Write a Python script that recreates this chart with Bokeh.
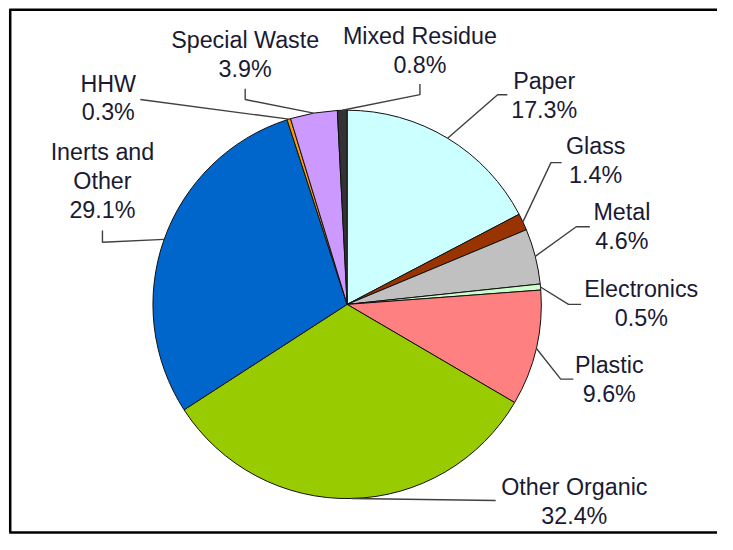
import numpy as np
from bokeh.plotting import figure
from bokeh.models import Range1d, ColumnDataSource
from bokeh.embed import file_html
from bokeh.resources import INLINE
from bokeh.core.properties import value

# ---- data ----
categories = ["Paper", "Glass", "Metal", "Electronics", "Plastic",
              "Other Organic", "Inerts and Other", "HHW", "Special Waste", "Mixed Residue"]
percents = [17.3, 1.4, 4.6, 0.5, 9.6, 32.4, 29.1, 0.3, 3.9, 0.8]
name_lines = [["Paper"], ["Glass"], ["Metal"], ["Electronics"], ["Plastic"],
              ["Other Organic"], ["Inerts and", "Other"], ["HHW"], ["Special Waste"], ["Mixed Residue"]]
colors = ["#CCFFFF", "#993300", "#C0C0C0", "#CCFFCC", "#FF8080",
          "#99CC00", "#0066CC", "#FF9900", "#CC99FF", "#333333"]

# ---- layout (reference pixel coordinates) ----
CX, CY, R = 357, 313, 200
label_pos = [(560, 82.5), (613, 150), (640, 217.5), (660, 297), (627, 375),
             (591, 501), (105, 156), (111, 85.5), (252, 40.5), (432, 37)]
leader_pts = [[(512, 97), (522, 97)], [(567, 167), (578, 167)], [(593, 233), (607, 233)],
              [(585, 313), (598, 313)], [(577, 390), (590, 390)], [(510, 515)],
              [(105, 249), (105, 237)], [(144, 102)], [(252, 102), (252, 91)],
              [(432, 97), (432, 86)]]
LINE_H = 29.8

W, H = 717, 534
S = H / 550.0  # uniform scale from reference pixels to screen pixels
p = figure(width=W, height=H, output_backend="svg", toolbar_location=None,
           x_axis_type=None, y_axis_type=None, min_border=0,
           x_range=Range1d(0, W / S), y_range=Range1d(-H / S, 0))
p.outline_line_color = None
p.background_fill_color = "white"
p.border_fill_color = "white"

vals = np.array(percents, dtype=float)
frac = vals / vals.sum()
cum = np.concatenate([[0.0], np.cumsum(frac)])
start = np.pi / 2 - cum[:-1] * 2 * np.pi
end = np.pi / 2 - cum[1:] * 2 * np.pi
mid = (start + end) / 2

src = ColumnDataSource(dict(start=start, end=end, color=colors, cat=categories))
p.wedge(x=CX, y=-CY, radius=R, start_angle="start", end_angle="end", direction="clock",
        fill_color="color", line_color="#111111", line_width=1, source=src)

# leader lines
xs, ys = [], []
for a, pts in zip(mid, leader_pts):
    ex = CX + R * np.cos(a)
    ey = CY - R * np.sin(a)
    xs.append([ex] + [q[0] for q in pts])
    ys.append([-ey] + [-q[1] for q in pts])
p.multi_line(xs, ys, line_color="#404040", line_width=1.4)

# labels
tx, ty, tt = [], [], []
for lines, pct, (lx, ly) in zip(name_lines, percents, label_pos):
    all_lines = lines + [f"{pct}%"]
    for i, s in enumerate(all_lines):
        tx.append(lx)
        ty.append(-(ly + i * LINE_H))
        tt.append(s)
p.text(x=tx, y=ty, text=tt, text_align="center", text_baseline="middle",
       text_font=value("Liberation Sans"), text_font_size=f"{24 * S:.1f}px",
       text_color="#1a1a33")

# frame border (left, top, bottom)
p.multi_line([[10, 10], [9, 740], [9, 740]],
             [[-9, -548], [-9.5, -9.5], [-548, -548]],
             line_color="black", line_width=2.5)

open("out.html", "w").write(file_html(p, INLINE))
